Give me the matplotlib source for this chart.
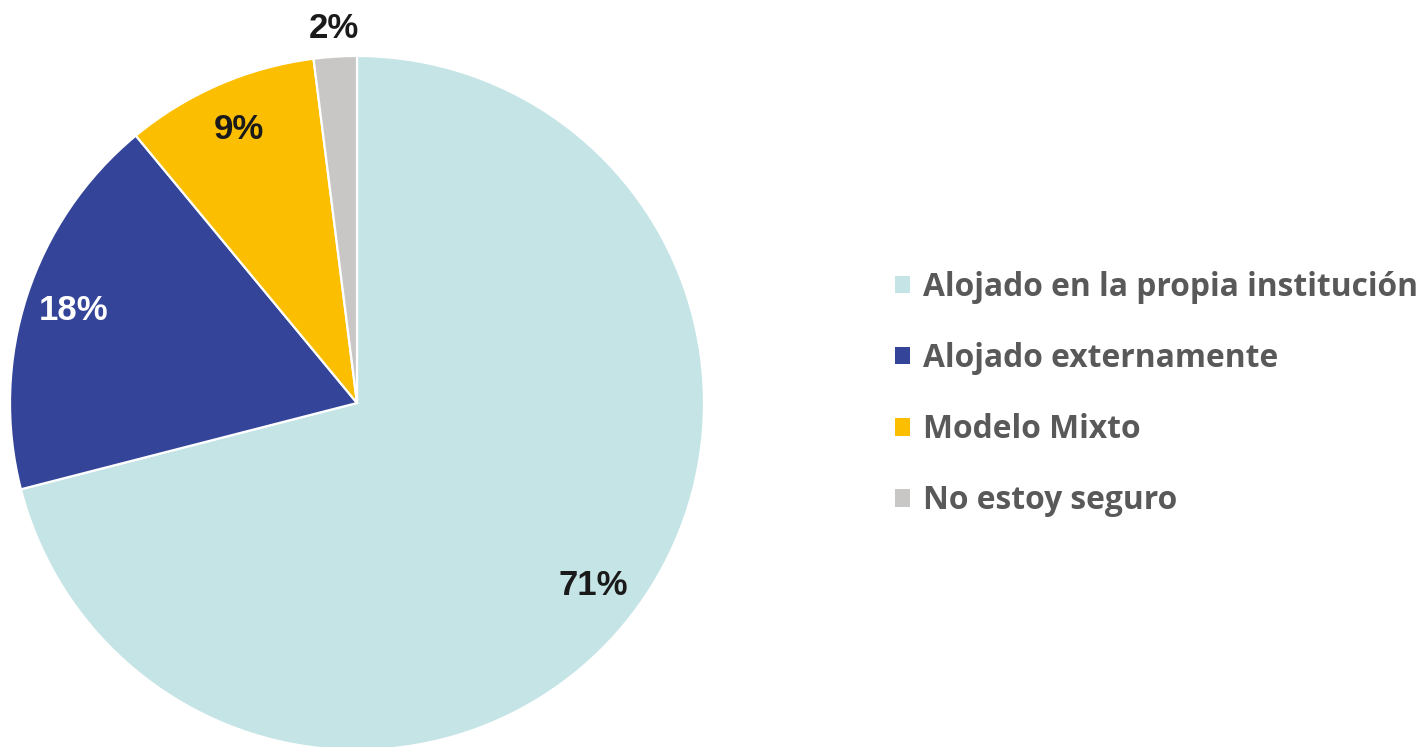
import numpy as np
import matplotlib
matplotlib.use("Agg")
import matplotlib.pyplot as plt

categories = ["Alojado en la propia institución", "Alojado externamente",
              "Modelo Mixto", "No estoy seguro"]
values = [71, 18, 9, 2]
colors = ["#C5E4E6", "#334499", "#FBBE00", "#C9C6C6"]
label_colors = ["#1A1A1A", "#FFFFFF", "#1A1A1A", "#1A1A1A"]

W, H = 1420, 747
fig = plt.figure(figsize=(W / 100, H / 100), dpi=100)
ax = fig.add_axes([0, 0, 1, 1])

cx, cy, R = 357, H - 403, 347
wedges, texts, autotexts = ax.pie(
    values, colors=colors, startangle=90, counterclock=False,
    center=(cx, cy), radius=R, autopct="%d%%", pctdistance=0.86,
    wedgeprops=dict(edgecolor="white", linewidth=1.6),
    textprops=dict(family="Liberation Sans", weight="bold", fontsize=25),
)
for t, c in zip(autotexts, label_colors):
    t.set_color(c)

# small slice label sits outside the pie
w = wedges[-1]
ang = np.deg2rad((w.theta1 + w.theta2) / 2)
autotexts[-1].set_position((cx + 1.08 * R * np.cos(ang), cy + 1.08 * R * np.sin(ang)))

ax.set_xlim(0, W)
ax.set_ylim(0, H)
ax.set_aspect("auto")
ax.axis("off")

leg = fig.legend(wedges, categories, loc="center left",
                 bbox_to_anchor=(879 / W, 1 - 394 / H), frameon=False,
                 prop=dict(family="Open Sans", weight="bold", size=22.9),
                 labelcolor="#595959", handlelength=0.47, handleheight=0.47,
                 handletextpad=0.4, labelspacing=1.2, borderpad=0)
for h in leg.legend_handles:
    h.set_edgecolor("none")

fig.savefig("out.png", dpi=100)
